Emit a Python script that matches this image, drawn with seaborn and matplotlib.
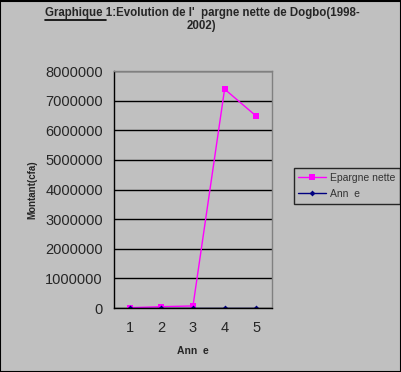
import matplotlib
matplotlib.use('Agg')
import matplotlib.pyplot as plt
import seaborn as sns
import pandas as pd

# Data
categories = [1, 2, 3, 4, 5]
epargne_nette = [10000, 45000, 70000, 7390000, 6480000]
annee = [1998, 1999, 2000, 2001, 2002]
y_ticks = [0, 1000000, 2000000, 3000000, 4000000, 5000000, 6000000, 7000000, 8000000]

df = pd.DataFrame({'cat': categories, 'Epargne nette': epargne_nette, 'Ann  e': annee})

sns.set_style('white')
plt.rcParams['font.family'] = ['Liberation Sans', 'DejaVu Sans']

bg = '#C0C0C0'
fig = plt.figure(figsize=(4.02, 3.72), dpi=100, facecolor=bg)
ax = fig.add_axes([0.2836, 0.172, 0.393, 0.637])
ax.set_facecolor(bg)

sns.lineplot(data=df, x='cat', y='Epargne nette', ax=ax, color='#FF00FF', lw=1,
             marker='s', markersize=5, markeredgewidth=0, label='Epargne nette')
sns.lineplot(data=df, x='cat', y='Ann  e', ax=ax, color='#000080', lw=1,
             marker='D', markersize=3, markeredgewidth=0, label='Ann  e')

ax.set_xlim(0.5, 5.5)
ax.set_ylim(0, 8000000)
ax.set_yticks(y_ticks)
ax.set_yticklabels([str(v) for v in y_ticks], fontsize=10.5)
ax.set_xticks(categories)
ax.set_xticklabels([str(c) for c in categories], fontsize=10.5)
ax.set_xticks([0.5, 1.5, 2.5, 3.5, 4.5, 5.5], minor=True)
ax.tick_params(axis='x', which='major', length=0, pad=9)
ax.tick_params(axis='x', which='minor', length=4, width=1, color='black', direction='out')
ax.tick_params(axis='y', which='major', length=4, width=1, color='black', direction='out', pad=4)
ax.grid(axis='y', color='black', lw=1)
ax.set_axisbelow(True)

for side in ['top', 'right']:
    ax.spines[side].set_color('#808080')
    ax.spines[side].set_linewidth(1)
for side in ['left', 'bottom']:
    ax.spines[side].set_color('black')
    ax.spines[side].set_linewidth(1)

ax.set_xlabel('Ann  e', fontsize=7.5, fontweight='bold', labelpad=8)
ax.set_ylabel('Montant(cfa)', fontsize=7, fontweight='bold', labelpad=6)

leg = ax.legend(loc='upper left', bbox_to_anchor=(1.105, 0.613), fontsize=7.5,
                frameon=True, fancybox=False, handlelength=2.6, borderpad=0.45,
                labelspacing=0.6, handletextpad=0.4)
leg.get_frame().set_facecolor(bg)
leg.get_frame().set_edgecolor('black')
leg.get_frame().set_linewidth(1)
for t in leg.get_texts():
    t.set_color('#333333')

# Title, with "Graphique " underlined
title_x = 0.112
title = fig.text(title_x, 0.965, "Graphique 1:Evolution de l'  pargne nette de Dogbo(1998-",
                 fontsize=8.3, fontweight='bold', ha='left', va='center')
probe = fig.text(title_x, 0.965, 'Graphique ', fontsize=8.3, fontweight='bold',
                 ha='left', va='center', alpha=0)
fig.canvas.draw()
r = fig.canvas.get_renderer()
pb = probe.get_window_extent(r)
probe.remove()
x1 = title_x + pb.width / fig.bbox.width
fig.add_artist(plt.Line2D([title_x, x1], [0.945, 0.945], color='black', lw=1.2,
                          transform=fig.transFigure))
fig.text(0.5, 0.93, '2002)', fontsize=8.3, fontweight='bold', ha='center', va='center')

# Outer border
fig.add_artist(plt.Rectangle((0.001, 0.001), 0.997, 0.997, fill=False, edgecolor='black',
                             lw=1.5, transform=fig.transFigure))

fig.savefig('out.png', dpi=100, facecolor=bg)
